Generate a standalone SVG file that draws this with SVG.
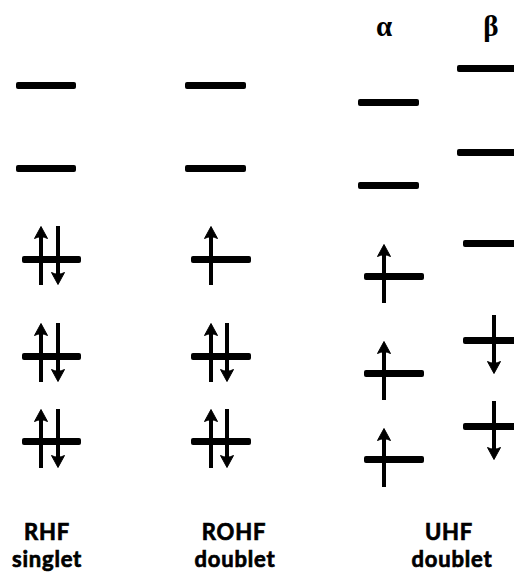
<svg xmlns="http://www.w3.org/2000/svg" width="514" height="575" viewBox="0 0 514 575">
<style>
.lvl{fill:#000}
.lbl{font-family:Lato,"Open Sans","Liberation Sans",sans-serif;font-weight:bold;font-size:22px;letter-spacing:0.8px;text-anchor:middle;fill:#000;stroke:#000;stroke-width:0.7px}
.spin{font-family:"Liberation Serif",serif;font-weight:bold;font-size:29px;text-anchor:middle;fill:#000}
.shaft{stroke:#000;stroke-width:4;fill:none}
.head{fill:#000;stroke:#000;stroke-width:1;stroke-linejoin:round}
</style>
<defs>
<g id="up"><path class="shaft" d="M0,6 V59"/><path class="head" d="M0,0.5 L6.5,12.5 Q0,9 -6.5,12.5 Z"/></g>
<g id="dn"><path class="shaft" d="M0,0 V53"/><path class="head" d="M0,58.5 L6.5,46.5 Q0,50 -6.5,46.5 Z"/></g>
</defs>
<rect width="514" height="575" fill="#fff"/>
<g id="rhf">
<rect class="lvl" x="16" y="82" width="60" height="7" rx="2"/>
<rect class="lvl" x="16" y="165" width="60" height="7" rx="2"/>
<rect class="lvl" x="22" y="256" width="59" height="7" rx="2"/>
<rect class="lvl" x="22" y="353" width="59" height="7" rx="2"/>
<rect class="lvl" x="22" y="438" width="59" height="7" rx="2"/>
<use href="#up" x="41" y="226"/><use href="#dn" x="58" y="226"/>
<use href="#up" x="41" y="323"/><use href="#dn" x="58" y="323"/>
<use href="#up" x="41" y="409"/><use href="#dn" x="58" y="409"/>
<text class="lbl" x="47" y="540">RHF</text>
<text class="lbl" x="47" y="567">singlet</text>
</g>
<g id="rohf">
<rect class="lvl" x="185" y="82" width="61" height="7" rx="2"/>
<rect class="lvl" x="185" y="165" width="61" height="7" rx="2"/>
<rect class="lvl" x="191" y="256" width="60" height="7" rx="2"/>
<rect class="lvl" x="191" y="353" width="60" height="7" rx="2"/>
<rect class="lvl" x="191" y="438" width="60" height="7" rx="2"/>
<use href="#up" x="211" y="226"/>
<use href="#up" x="211" y="323"/><use href="#dn" x="227" y="323"/>
<use href="#up" x="211" y="409"/><use href="#dn" x="227" y="409"/>
<text class="lbl" x="234" y="540">ROHF</text>
<text class="lbl" x="235" y="567">doublet</text>
</g>
<g id="uhf-alpha">
<text class="spin" x="384" y="36">α</text>
<rect class="lvl" x="358" y="99" width="61" height="7" rx="2"/>
<rect class="lvl" x="358" y="182" width="61" height="7" rx="2"/>
<rect class="lvl" x="364" y="273" width="60" height="7" rx="2"/>
<rect class="lvl" x="364" y="370" width="60" height="7" rx="2"/>
<rect class="lvl" x="364" y="456" width="60" height="7" rx="2"/>
<use href="#up" x="384" y="244"/>
<use href="#up" x="384" y="341"/>
<use href="#up" x="384" y="428"/>
</g>
<g id="uhf-beta">
<text class="spin" x="491" y="36">β</text>
<rect class="lvl" x="457" y="65" width="60" height="7" rx="2"/>
<rect class="lvl" x="457" y="149" width="60" height="7" rx="2"/>
<rect class="lvl" x="463" y="240" width="60" height="7" rx="2"/>
<rect class="lvl" x="463" y="337" width="60" height="7" rx="2"/>
<rect class="lvl" x="463" y="423" width="60" height="7" rx="2"/>
<use href="#dn" x="494" y="315"/>
<use href="#dn" x="494" y="401"/>
</g>
<g id="uhf-label">
<text class="lbl" x="449" y="540">UHF</text>
<text class="lbl" x="452" y="567">doublet</text>
</g>
</svg>
